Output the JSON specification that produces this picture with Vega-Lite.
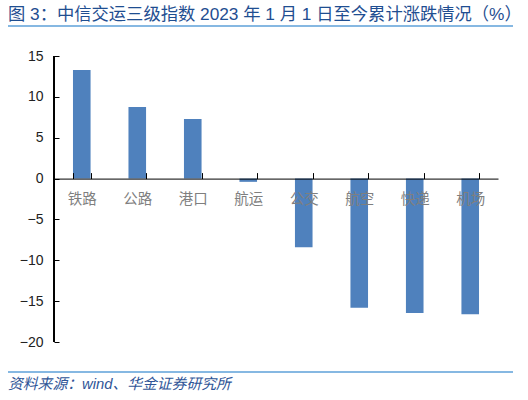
{
  "$schema": "https://vega.github.io/schema/vega-lite/v6.json",
  "padding": {"left": 8, "top": 5, "right": 10, "bottom": 0},
  "spacing": 29,
  "bounds": "flush",
  "config": {
    "view": {"stroke": null},
    "font": "Liberation Sans, Noto Sans CJK SC",
    "axis": {"labelFont": "Liberation Sans, Noto Sans CJK SC"}
  },
  "resolve": {"scale": {"x": "independent", "y": "independent"}},
  "vconcat": [
    {
      "title": {
        "text": "图 3：中信交运三级指数 2023 年 1 月 1 日至今累计涨跌情况（%）",
        "anchor": "start",
        "fontSize": 17.3,
        "fontWeight": "normal",
        "color": "#1f4e91",
        "offset": 2
      },
      "width": 444,
      "height": 2,
      "data": {"values": [{"a": -46, "b": 459, "v0": 0, "v1": 1}]},
      "mark": {"type": "rect", "color": "#86b8e2"},
      "encoding": {
        "x": {"field": "a", "type": "quantitative", "scale": {"domain": [0, 444]}, "axis": null},
        "x2": {"field": "b"},
        "y": {"field": "v0", "type": "quantitative", "scale": {"domain": [0, 1]}, "axis": null},
        "y2": {"field": "v1"}
      }
    },
    {
      "width": 444,
      "height": 286,
      "data": {
        "values": [
          {"industry": "铁路", "change": 13.3},
          {"industry": "公路", "change": 8.75},
          {"industry": "港口", "change": 7.3},
          {"industry": "航运", "change": -0.4},
          {"industry": "公交", "change": -8.4},
          {"industry": "航空", "change": -15.8},
          {"industry": "快递", "change": -16.45},
          {"industry": "机场", "change": -16.6}
        ]
      },
      "resolve": {"scale": {"x": "independent"}},
      "layer": [
        {
          "mark": {"type": "bar", "color": "#4f81bd"},
          "encoding": {
            "x": {
              "field": "industry",
              "type": "nominal",
              "sort": null,
              "scale": {"paddingInner": 0.683, "paddingOuter": 0.342},
              "axis": {
                "title": null,
                "labelAngle": 0,
                "offset": -163.4,
                "zindex": 1,
                "domainColor": "#000000",
                "tickColor": "#000000",
                "tickBand": "extent",
                "tickSize": -6,
                "labelPadding": 20,
                "labelFontSize": 14.5,
                "labelColor": "#7f7f7f"
              }
            },
            "y": {
              "field": "change",
              "type": "quantitative",
              "scale": {"domain": [-20, 15], "nice": false},
              "axis": {
                "title": null,
                "values": [-20, -15, -10, -5, 0, 5, 10, 15],
                "grid": false,
                "domain": false,
                "tickColor": "#000000",
                "tickSize": -5,
                "labelPadding": 16,
                "labelFontSize": 14,
                "labelColor": "#222222"
              }
            }
          }
        },
        {
          "mark": {"type": "rule", "color": "#000000", "strokeWidth": 1},
          "encoding": {
            "x": {"datum": 0, "type": "quantitative", "scale": {"domain": [0, 1]}, "axis": null},
            "y": {"datum": -20},
            "y2": {"datum": 15}
          }
        }
      ]
    },
    {
      "title": {
        "text": "资料来源：wind、华金证券研究所",
        "orient": "bottom",
        "anchor": "start",
        "fontSize": 14.8,
        "fontStyle": "italic",
        "fontWeight": "normal",
        "color": "#2f5597",
        "offset": 4
      },
      "width": 444,
      "height": 2,
      "data": {"values": [{"a": -46, "b": 459, "v0": 0, "v1": 1}]},
      "mark": {"type": "rect", "color": "#86b8e2"},
      "encoding": {
        "x": {"field": "a", "type": "quantitative", "scale": {"domain": [0, 444]}, "axis": null},
        "x2": {"field": "b"},
        "y": {"field": "v0", "type": "quantitative", "scale": {"domain": [0, 1]}, "axis": null},
        "y2": {"field": "v1"}
      }
    }
  ]
}
